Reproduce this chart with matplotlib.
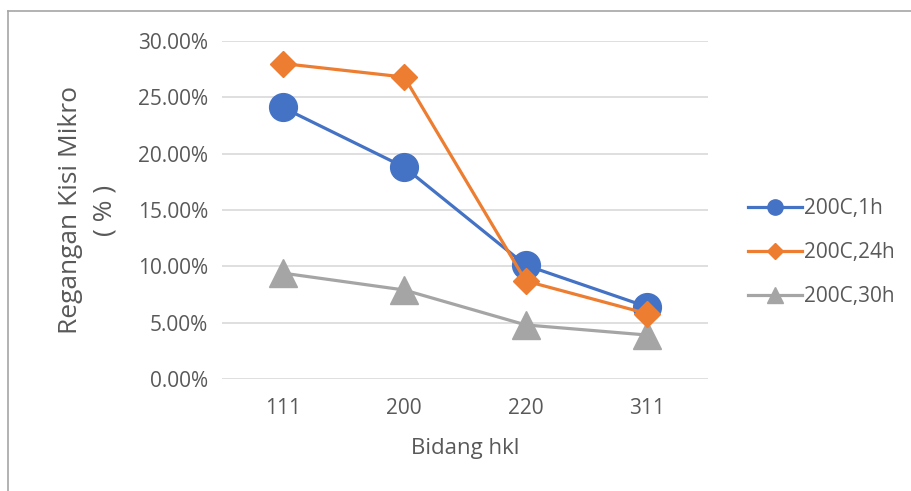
import matplotlib.pyplot as plt
from matplotlib.lines import Line2D
from matplotlib.ticker import FuncFormatter

plt.rcParams['font.family'] = ['Open Sans', 'DejaVu Sans']

# regangan kisi mikro (%) per bidang hkl
bidang = ['111', '200', '220', '311']
r_1h = [24.1, 18.8, 10.1, 6.4]
r_24h = [28.0, 26.8, 8.7, 5.8]
r_30h = [9.4, 7.9, 4.8, 3.9]
labels = ['200C,1h', '200C,24h', '200C,30h']

c_blue = '#4472C4'
c_orange = '#ED7D31'
c_gray = '#A5A5A5'
txt = '#595959'

fig = plt.figure(figsize=(9.11, 4.91), dpi=100)
ax = fig.add_axes([0.2437, 0.2281, 0.5335, 0.6884])

x = range(len(bidang))
ax.plot(x, r_30h, color=c_gray, lw=2.3, marker='^', ms=20, zorder=3)
ax.plot(x, r_1h, color=c_blue, lw=2.3, marker='o', ms=20, zorder=4)
ax.plot(x, r_24h, color=c_orange, lw=2.3, marker='D', ms=13, zorder=5)

ax.set_xlim(-0.5, 3.5)
ax.set_ylim(0, 30)
ax.set_yticks(range(0, 31, 5))
ax.yaxis.set_major_formatter(FuncFormatter(lambda v, p: f'{v:.2f}%'))
ax.set_xticks(list(x))
ax.set_xticklabels(bidang)
ax.grid(axis='y', color='#D9D9D9', lw=1.2)
ax.set_axisbelow(True)
for s in ax.spines.values():
    s.set_visible(False)
ax.tick_params(length=0, labelsize=15, colors=txt, pad=10)
ax.tick_params(axis='x', pad=14)

ax.set_xlabel('Bidang hkl', fontsize=16, color=txt, labelpad=13)
ax.set_ylabel('Regangan Kisi Mikro\n( % )', fontsize=19, color=txt,
              labelpad=15, linespacing=1.45)

handles = [
    Line2D([], [], color=c_blue, lw=2.3, marker='o', ms=11),
    Line2D([], [], color=c_orange, lw=2.3, marker='D', ms=8),
    Line2D([], [], color=c_gray, lw=2.3, marker='^', ms=11),
]
fig.legend(handles, labels, loc='center left', bbox_to_anchor=(0.8, 0.485),
           frameon=False, fontsize=15, labelcolor=txt, handlelength=2.6,
           handletextpad=0.1, labelspacing=1.1)

# chart border
fig.add_artist(Line2D([0.009, 0.009], [0, 0.978], color='#A6A6A6', lw=1.2,
                      transform=fig.transFigure))
fig.add_artist(Line2D([0.009, 1.0], [0.978, 0.978], color='#A6A6A6', lw=1.2,
                      transform=fig.transFigure))

fig.savefig('out.png', dpi=100)
